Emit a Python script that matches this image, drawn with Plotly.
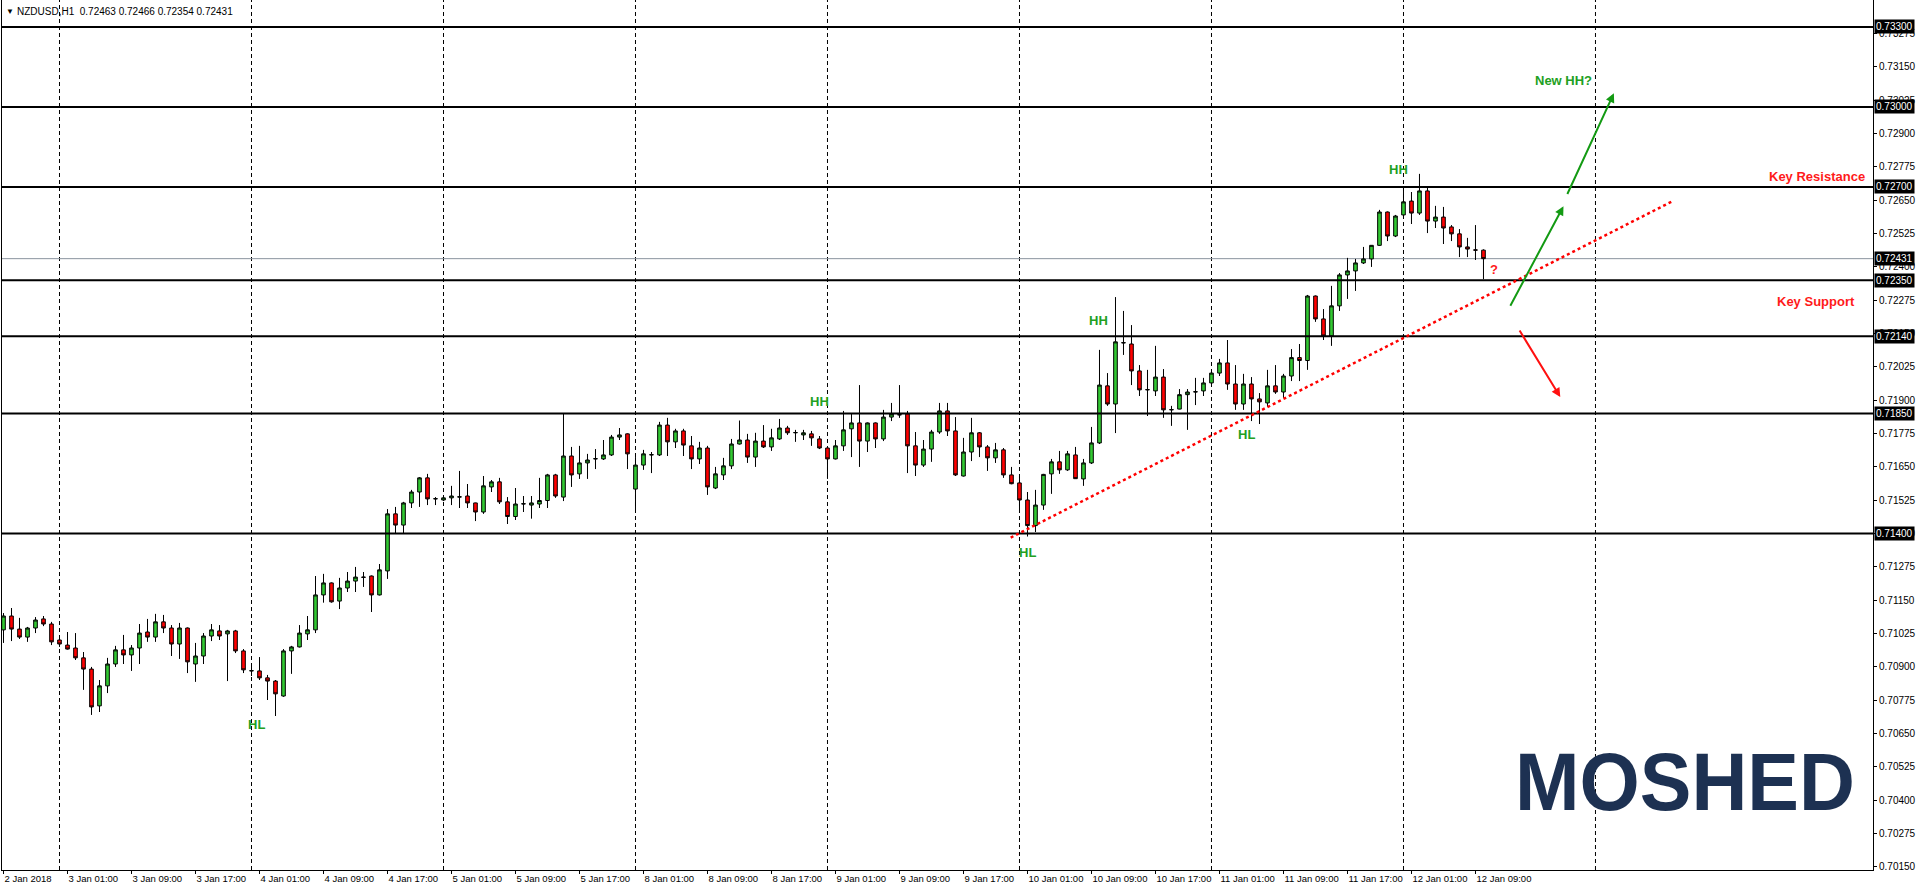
import numpy as np
import pandas as pd
import plotly.graph_objects as go

# ---------------- data ----------------
chart_title = "NZDUSD,H1  0.72463 0.72466 0.72354 0.72431"
logo_text = "MOSHED"

# OHLC of each H1 bar, in points (1 point = 0.00001)
open_pts = [71039, 71091, 71042, 71012, 71046, 71080, 71061, 71001, 70982, 70971,
            70934, 70892, 70754, 70829, 70911, 70964, 70945, 70971, 71031, 71012,
            71069, 71046, 70986, 71046, 70911, 70941, 71016, 71035, 71024, 71035,
            70960, 70885, 70885, 70859, 70847, 70791, 70960, 70975, 71024, 71039,
            71170, 71215, 71147, 71196, 71222, 71237, 71241, 71170, 71260, 71474,
            71432, 71515, 71556, 71609, 71530, 71526, 71534, 71537, 71541, 71515,
            71481, 71575, 71594, 71519, 71464, 71511, 71507, 71511, 71524, 71620,
            71537, 71691, 71624, 71665, 71680, 71680, 71695, 71762, 71774, 71567,
            71657, 71695, 71695, 71807, 71744, 71785, 71729, 71680, 71721, 71571,
            71620, 71654, 71736, 71751, 71687, 71747, 71725, 71755, 71796, 71778,
            71770, 71774, 71755, 71721, 71680, 71729, 71793, 71815, 71747, 71815,
            71755, 71837, 71845, 71849, 71729, 71657, 71717, 71781, 71860, 71785,
            71616, 71706, 71778, 71725, 71684, 71714, 71620, 71590, 71526, 71430,
            71507, 71624, 71669, 71639, 71695, 71605, 71665, 71740, 71954, 71886,
            72115, 72111, 72010, 71939, 71935, 71987, 71864, 71867, 71921, 71931,
            71935, 71965, 72002, 72040, 71961, 71886, 71961, 71905, 71890, 71954,
            71931, 71991, 72060, 72049, 72291, 72205, 72141, 72254, 72370, 72385,
            72415, 72430, 72481, 72606, 72516, 72595, 72647, 72602, 72685, 72572,
            72587, 72550, 72524, 72475, 72464, 72463]
high_pts = [71102, 71121, 71084, 71050, 71087, 71091, 71069, 71005, 71031, 71027,
            70956, 70900, 70851, 70934, 70979, 71020, 70982, 71061, 71080, 71099,
            71095, 71057, 71065, 71048, 70990, 71027, 71061, 71057, 71039, 71039,
            70967, 70904, 70937, 70870, 70851, 70967, 70979, 71057, 71091, 71241,
            71249, 71217, 71234, 71256, 71275, 71256, 71243, 71286, 71492, 71500,
            71519, 71564, 71612, 71624, 71537, 71537, 71579, 71635, 71586, 71516,
            71616, 71601, 71609, 71537, 71571, 71541, 71541, 71609, 71624, 71624,
            71849, 71725, 71729, 71699, 71717, 71751, 71770, 71796, 71776, 71687,
            71714, 71706, 71819, 71834, 71793, 71793, 71766, 71744, 71729, 71650,
            71684, 71755, 71824, 71774, 71778, 71807, 71793, 71830, 71804, 71789,
            71789, 71785, 71766, 71722, 71751, 71860, 71849, 71957, 71817, 71817,
            71864, 71890, 71957, 71860, 71781, 71751, 71789, 71890, 71890, 71837,
            71759, 71834, 71781, 71732, 71740, 71721, 71650, 71616, 71556, 71564,
            71624, 71680, 71710, 71710, 71725, 71680, 71800, 72089, 72002, 72287,
            72235, 72182, 72032, 72014, 72104, 72017, 71879, 71942, 71942, 71984,
            71984, 72017, 72055, 72126, 72032, 71999, 71987, 71927, 72014, 72032,
            71999, 72092, 72111, 72295, 72293, 72242, 72329, 72377, 72434, 72430,
            72475, 72482, 72614, 72608, 72595, 72700, 72681, 72749, 72700, 72629,
            72625, 72557, 72542, 72509, 72557, 72466]
low_pts = [70990, 70997, 71005, 70994, 71027, 71053, 70982, 70975, 70965, 70926,
           70814, 70720, 70731, 70802, 70900, 70911, 70885, 70911, 70994, 70994,
           71027, 70941, 70930, 70877, 70844, 70911, 70997, 71001, 70847, 70952,
           70877, 70866, 70851, 70776, 70716, 70788, 70874, 70973, 71001, 71027,
           71141, 71141, 71117, 71181, 71181, 71200, 71106, 71168, 71230, 71399,
           71399, 71496, 71500, 71507, 71507, 71522, 71507, 71496, 71496, 71447,
           71474, 71556, 71511, 71436, 71451, 71481, 71456, 71496, 71496, 71534,
           71522, 71575, 71605, 71605, 71642, 71676, 71691, 71751, 71642, 71492,
           71639, 71627, 71691, 71691, 71721, 71691, 71642, 71661, 71545, 71567,
           71601, 71642, 71734, 71665, 71650, 71721, 71710, 71751, 71770, 71744,
           71751, 71729, 71717, 71605, 71678, 71710, 71687, 71650, 71706, 71721,
           71747, 71822, 71834, 71627, 71616, 71650, 71669, 71774, 71766, 71616,
           71614, 71672, 71687, 71635, 71665, 71609, 71585, 71492, 71389, 71406,
           71489, 71549, 71624, 71635, 71605, 71579, 71661, 71736, 71879, 71777,
           72070, 71957, 71916, 71841, 71916, 71834, 71804, 71866, 71789, 71882,
           71916, 71957, 71991, 71939, 71864, 71864, 71822, 71811, 71875, 71924,
           71909, 71972, 71972, 72014, 72194, 72126, 72104, 72235, 72280, 72310,
           72411, 72400, 72479, 72497, 72512, 72585, 72561, 72595, 72527, 72546,
           72486, 72497, 72437, 72437, 72426, 72354]
close_pts = [71091, 71042, 71012, 71046, 71076, 71061, 70994, 70986, 70967, 70934,
             70892, 70750, 70829, 70911, 70964, 70945, 70971, 71027, 71012, 71069,
             71046, 70986, 71046, 70919, 70941, 71016, 71039, 71016, 71035, 70960,
             70889, 70886, 70859, 70847, 70799, 70960, 70975, 71027, 71039, 71170,
             71215, 71144, 71196, 71222, 71237, 71236, 71170, 71264, 71474, 71432,
             71515, 71556, 71609, 71530, 71531, 71534, 71541, 71538, 71515, 71481,
             71579, 71594, 71519, 71464, 71511, 71512, 71515, 71524, 71620, 71541,
             71691, 71620, 71665, 71676, 71681, 71695, 71762, 71770, 71699, 71657,
             71699, 71696, 71807, 71744, 71785, 71732, 71680, 71721, 71575, 71624,
             71654, 71736, 71751, 71687, 71747, 71725, 71759, 71796, 71778, 71779,
             71778, 71759, 71721, 71680, 71729, 71789, 71815, 71747, 71815, 71755,
             71837, 71849, 71846, 71729, 71657, 71717, 71781, 71860, 71785, 71620,
             71706, 71778, 71725, 71684, 71714, 71620, 71587, 71526, 71430, 71507,
             71622, 71669, 71639, 71699, 71606, 71665, 71740, 71957, 71886, 72119,
             72116, 72010, 71939, 71940, 71987, 71864, 71865, 71921, 71931, 71932,
             71965, 72002, 72040, 71961, 71886, 71961, 71905, 71894, 71954, 71931,
             71991, 72060, 72049, 72291, 72205, 72141, 72254, 72370, 72385, 72415,
             72430, 72481, 72606, 72516, 72591, 72644, 72602, 72685, 72572, 72587,
             72546, 72524, 72475, 72467, 72463, 72431]
POINT = 0.00001

# x-axis labels (one every 8 bars)
tick_labels = ["2 Jan 2018", "3 Jan 01:00", "3 Jan 09:00", "3 Jan 17:00", "4 Jan 01:00",
               "4 Jan 09:00", "4 Jan 17:00", "5 Jan 01:00", "5 Jan 09:00", "5 Jan 17:00",
               "8 Jan 01:00", "8 Jan 09:00", "8 Jan 17:00", "9 Jan 01:00", "9 Jan 09:00",
               "9 Jan 17:00", "10 Jan 01:00", "10 Jan 09:00", "10 Jan 17:00", "11 Jan 01:00",
               "11 Jan 09:00", "11 Jan 17:00", "12 Jan 01:00", "12 Jan 09:00"]
label_step = 8

# y-axis tick values
y_ticks = [0.70150, 0.70275, 0.70400, 0.70525, 0.70650, 0.70775, 0.70900, 0.71025,
           0.71150, 0.71275, 0.71400, 0.71525, 0.71650, 0.71775, 0.71900, 0.72025,
           0.72150, 0.72275, 0.72400, 0.72525, 0.72650, 0.72775, 0.72900, 0.73025,
           0.73150, 0.73275]

# horizontal key levels
levels = [0.73300, 0.73000, 0.72700, 0.72350, 0.72140, 0.71850, 0.71400]
last_price = 0.72431

# drawing objects (x in bar number, y in price)
trend_start = (125.9, 0.71385)
trend_end = (208.6, 0.72646)
green_arrows = [((188.26, 0.72249), (195.0, 0.72628)),
                ((195.4, 0.72668), (201.3, 0.73051))]
red_arrows = [((189.4, 0.72167), (194.6, 0.71912))]
green_labels = [("HL", 31.65, 0.70686), ("HH", 102.06, 0.71894), ("HL", 128.05, 0.71331),
                ("HH", 136.9, 0.72198), ("HL", 155.4, 0.71771), ("HH", 174.35, 0.72766),
                ("New HH?", 194.94, 0.73098)]
red_labels = [("?", 186.35, 0.72391, "center"), ("Key Resistance", 232.9, 0.72741, "right"),
              ("Key Support", 231.7, 0.72270, "right")]

# ---------------- build ----------------
slots = pd.date_range("2018-01-02 17:00", "2018-01-19 23:00", freq="h")
slots = slots[slots.dayofweek < 5]
n = len(open_pts)
x_idx = np.arange(n)
x_range = [-0.1875, 233.69]
# day separators: every day start up to the first day after the last bar
day_lines = [i for i, t in enumerate(slots) if t.hour == 0 and i < n + 24]
tick_idx = list(range(0, n, label_step))[:len(tick_labels)]

GREEN_BODY = "#32c832"
RED_BODY = "#ff0000"
TXT_GREEN = "#22a022"
ARROW_GREEN = "#139a13"
TXT_RED = "#ff1a1a"
FONT = "Tahoma, 'Liberation Sans', Arial, sans-serif"
BOLD_FONT = "'Liberation Sans', Arial, sans-serif"

fig = go.Figure()
fig.add_trace(go.Candlestick(
    x=x_idx,
    open=np.array(open_pts) * POINT, high=np.array(high_pts) * POINT,
    low=np.array(low_pts) * POINT, close=np.array(close_pts) * POINT,
    increasing=dict(line=dict(color="black", width=1), fillcolor=GREEN_BODY),
    decreasing=dict(line=dict(color="black", width=1), fillcolor=RED_BODY),
    whiskerwidth=0, hoverinfo="skip", showlegend=False,
))

shapes = []
for d in day_lines:
    shapes.append(dict(type="line", xref="x", yref="paper", x0=d, x1=d, y0=0, y1=1,
                       line=dict(color="black", width=1, dash="4px,3px"), layer="below"))
shapes.append(dict(type="line", xref="paper", yref="y", x0=0, x1=1, y0=last_price, y1=last_price,
                   line=dict(color="#8a949e", width=1), layer="below"))
for lv in levels:
    shapes.append(dict(type="line", xref="paper", yref="y", x0=0, x1=1, y0=lv, y1=lv,
                       line=dict(color="black", width=2), layer="above"))
shapes.append(dict(type="line", xref="x", yref="y", x0=trend_start[0], y0=trend_start[1],
                   x1=trend_end[0], y1=trend_end[1],
                   line=dict(color="#ff0000", width=2.5, dash="3px,3px"), layer="above"))

ann = []
# watermark logo
ann.append(dict(x=0.8995, y=0.102, xref="paper", yref="paper", text=logo_text, showarrow=False,
                xanchor="center", yanchor="middle",
                font=dict(family=BOLD_FONT, size=82, color="#1d3152", weight="bold")))
for (tail, tip) in green_arrows:
    ann.append(dict(x=tip[0], y=tip[1], ax=tail[0], ay=tail[1], xref="x", yref="y",
                    axref="x", ayref="y", text="", showarrow=True, arrowhead=2,
                    arrowsize=0.9, arrowwidth=2, arrowcolor=ARROW_GREEN))
for (tail, tip) in red_arrows:
    ann.append(dict(x=tip[0], y=tip[1], ax=tail[0], ay=tail[1], xref="x", yref="y",
                    axref="x", ayref="y", text="", showarrow=True, arrowhead=2,
                    arrowsize=0.9, arrowwidth=2, arrowcolor="#ff1010"))
for txt, xx, yy in green_labels:
    ann.append(dict(x=xx, y=yy, xref="x", yref="y", text=txt, showarrow=False,
                    font=dict(family=BOLD_FONT, size=13, color=TXT_GREEN, weight="bold"),
                    xanchor="center", yanchor="middle"))
for txt, xx, yy, anc in red_labels:
    ann.append(dict(x=xx, y=yy, xref="x", yref="y", text=txt, showarrow=False,
                    font=dict(family=BOLD_FONT, size=13, color=TXT_RED, weight="bold"),
                    xanchor=anc, yanchor="middle"))
# price boxes on the right axis
for lv in levels + [last_price]:
    ann.append(dict(x=1, y=lv, xref="paper", yref="y", text=f"{lv:.5f}", showarrow=False,
                    xanchor="left", yanchor="middle", xshift=1, bgcolor="black",
                    borderpad=1, font=dict(family=FONT, size=10, color="white")))
# title
ann.append(dict(x=0, y=1, xref="paper", yref="paper", text="\u25bc", showarrow=False,
                xanchor="left", yanchor="middle", xshift=2, yshift=-11,
                font=dict(family=FONT, size=8, color="black")))
ann.append(dict(x=0, y=1, xref="paper", yref="paper", text=chart_title, showarrow=False,
                xanchor="left", yanchor="middle", xshift=13, yshift=-11,
                font=dict(family=FONT, size=10, color="black")))

fig.update_layout(
    width=1916, height=891,
    margin=dict(l=2, r=43, t=0, b=21),
    paper_bgcolor="white", plot_bgcolor="white",
    font=dict(family=FONT, size=10, color="black"),
    shapes=shapes, annotations=ann,
    boxgap=0.35,
    showlegend=False,
    xaxis=dict(range=x_range, showgrid=False, zeroline=False, showline=True,
               linecolor="black", linewidth=1, tickmode="array", tickvals=tick_idx,
               ticktext=tick_labels, ticks="outside", ticklen=3, tickcolor="black",
               ticklabelposition="outside right", tickfont=dict(size=9.5),
               rangeslider=dict(visible=False), fixedrange=True),
    yaxis=dict(range=[0.701385, 0.73401], side="right", showgrid=False, zeroline=False,
               showline=True, mirror=True, linecolor="black", linewidth=1,
               tickmode="array", tickvals=y_ticks, tickformat=".5f", ticks="outside",
               ticklen=3, tickcolor="black", tickfont=dict(size=10), fixedrange=True),
)

post_js = """
document.body.style.margin='0';
document.body.style.overflow='hidden';
document.querySelectorAll('text.annotation-text').forEach(function(t){
  if (t.textContent === 'MOSHED') {
    t.setAttribute('textLength', '340');
    t.setAttribute('lengthAdjust', 'spacingAndGlyphs');
  }
});
"""
fig.write_html("out.html", config={"displayModeBar": False}, post_script=post_js)
